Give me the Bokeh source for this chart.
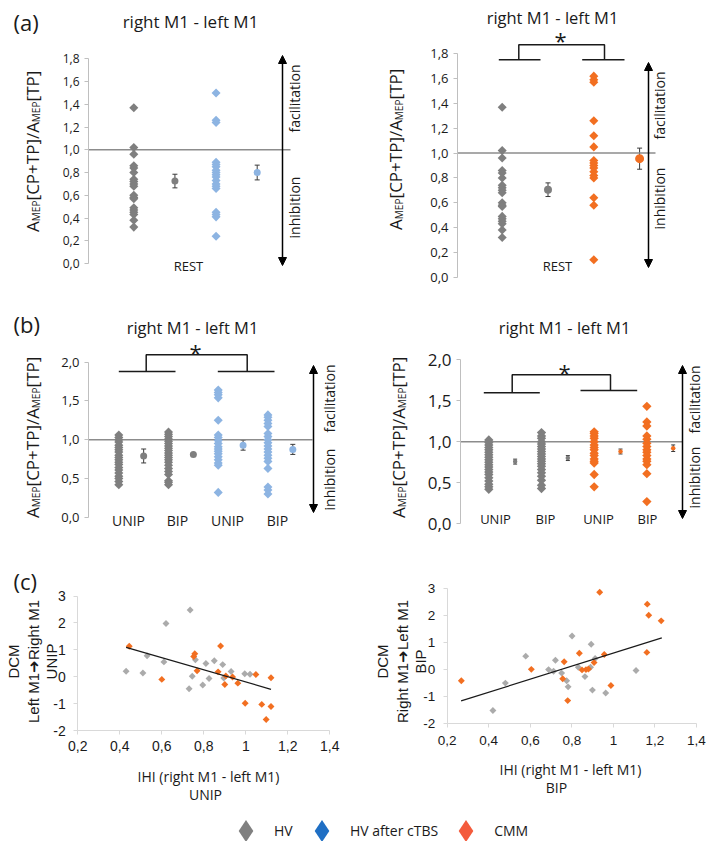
import math
from bokeh.plotting import figure
from bokeh.models import (Range1d, Label, Arrow, NormalHead, Whisker, TeeHead,
                          ColumnDataSource, FixedTicker, CustomJSTickFormatter,
                          Legend, LegendItem)
from bokeh.layouts import column, row
from bokeh.embed import file_html
from bokeh.resources import INLINE

# ---------------- data ----------------
rest_ticks = [0.0, 0.2, 0.4, 0.6, 0.8, 1.0, 1.2, 1.4, 1.6, 1.8]
stim_ticks = [0.0, 0.5, 1.0, 1.5, 2.0]
ihi_ticks = [0.2, 0.4, 0.6, 0.8, 1.0, 1.2, 1.4]
dcm_ticks = [-2, -1, 0, 1, 2, 3]

rest_label = ["REST"]
stim_labels = ["UNIP", "BIP", "UNIP", "BIP"]

# (a) REST
rest_hv = [1.37, 1.02, 0.96, 0.86, 0.84, 0.80, 0.74, 0.72, 0.70, 0.68, 0.60,
           0.58, 0.57, 0.49, 0.47, 0.45, 0.43, 0.38, 0.32]
rest_ctbs = [1.50, 1.26, 1.24, 0.89, 0.87, 0.85, 0.82, 0.80, 0.78, 0.76, 0.73,
             0.70, 0.68, 0.66, 0.45, 0.43, 0.41, 0.24]
rest_cmm = [1.62, 1.59, 1.57, 1.26, 1.14, 1.05, 0.94, 0.92, 0.90, 0.88, 0.85,
            0.82, 0.80, 0.64, 0.58, 0.14]
rest_mean_left = [0.725, 0.80]
rest_err_left = [0.06, 0.065]
rest_mean_right = [0.705, 0.955]
rest_err_right = [0.055, 0.085]

# (b) UNIP / BIP, left panel (HV vs HV after cTBS)
stim_hv_unip_l = [1.06, 1.03, 1.00, 0.97, 0.93, 0.90, 0.87, 0.84, 0.80, 0.77,
                  0.74, 0.71, 0.68, 0.64, 0.61, 0.57, 0.53, 0.50, 0.46, 0.42]
stim_hv_bip_l = [1.10, 1.07, 1.04, 1.01, 0.98, 0.95, 0.92, 0.89, 0.86, 0.83,
                 0.80, 0.77, 0.74, 0.71, 0.67, 0.63, 0.59, 0.55, 0.47, 0.45, 0.42]
stim_ctbs_unip = [1.64, 1.61, 1.58, 1.54, 1.25, 1.06, 1.03, 0.99, 0.95, 0.91,
                  0.88, 0.85, 0.82, 0.78, 0.74, 0.70, 0.67, 0.32]
stim_ctbs_bip = [1.32, 1.29, 1.25, 1.21, 1.17, 1.08, 1.04, 1.00, 0.96, 0.92,
                 0.88, 0.84, 0.80, 0.76, 0.72, 0.63, 0.39, 0.35, 0.30]
stim_mean_left = [0.79, 0.81, 0.93, 0.875]
stim_err_left = [0.09, 0.015, 0.065, 0.065]

# (b) right panel (HV vs CMM)
stim_hv_unip_r = [1.02, 0.99, 0.96, 0.93, 0.90, 0.87, 0.84, 0.81, 0.78, 0.75,
                  0.72, 0.69, 0.66, 0.63, 0.60, 0.56, 0.52, 0.48, 0.45, 0.42]
stim_hv_bip_r = [1.11, 1.07, 1.04, 1.00, 0.97, 0.94, 0.91, 0.88, 0.85, 0.82,
                 0.79, 0.76, 0.73, 0.70, 0.66, 0.62, 0.58, 0.53, 0.47, 0.43]
stim_cmm_unip = [1.12, 1.10, 1.07, 1.04, 1.00, 0.96, 0.93, 0.90, 0.86, 0.83,
                 0.79, 0.76, 0.74, 0.60, 0.45]
stim_cmm_bip = [1.43, 1.24, 1.19, 1.07, 1.03, 0.98, 0.94, 0.90, 0.87, 0.83,
                0.79, 0.76, 0.72, 0.61, 0.27]
stim_mean_right = [0.757, 0.80, 0.88, 0.92]
stim_err_right = [0.03, 0.03, 0.03, 0.04]

# (c) DCM vs IHI
unip_hv_x = [0.43, 0.51, 0.53, 0.61, 0.62, 0.735, 0.73, 0.745, 0.76, 0.795,
             0.81, 0.825, 0.85, 0.89, 0.895, 0.93, 0.995, 1.02]
unip_hv_y = [0.20, 0.14, 0.78, 0.55, 1.98, 2.48, -0.45, 0.02, 0.63, -0.31,
             0.49, -0.07, 0.59, 0.45, -0.05, 0.19, 0.11, 0.09]
unip_cmm_x = [0.445, 0.60, 0.757, 0.752, 0.768, 0.868, 0.88, 0.90, 0.905,
              0.937, 0.962, 0.997, 1.048, 1.076, 1.097, 1.12, 1.12]
unip_cmm_y = [1.13, -0.10, 0.85, 0.75, 0.22, 0.18, 1.14, -0.29, 0.03, -0.01,
              -0.24, -0.99, 0.08, -1.03, -1.59, -0.04, -1.11]
unip_fit_x = [0.43, 1.12]
unip_fit_y = [1.09, -0.47]

bip_hv_x = [0.42, 0.48, 0.578, 0.688, 0.721, 0.712, 0.751, 0.775, 0.782, 0.801,
            0.831, 0.863, 0.893, 0.89, 0.912, 0.899, 0.963, 1.109]
bip_hv_y = [-1.52, -0.50, 0.50, 0.00, 0.35, -0.06, -0.13, -0.41, -0.64, 1.25,
            0.09, -0.26, 0.94, 0.09, 0.41, -0.76, -0.87, -0.03]
bip_cmm_x = [0.268, 0.605, 0.763, 0.756, 0.78, 0.836, 0.849, 0.868, 0.88,
             0.907, 0.934, 0.956, 0.988, 1.161, 1.163, 1.17, 1.23]
bip_cmm_y = [-0.41, 0.01, 0.29, -0.34, -1.15, 0.61, -0.01, 0.0, 0.02, 0.26,
             2.87, 0.56, -0.59, 0.64, 2.43, 2.02, 1.81]
bip_fit_x = [0.267, 1.233]
bip_fit_y = [-1.16, 1.18]

legend_labels = ["HV", "HV after cTBS", "CMM"]

# ---------------- styles ----------------
GRAY = "#7F7F7F"
CGRAY = "#ABABAB"
BLUE = "#8DB4E2"
ORANGE = "#F26F21"
LEG_COLORS = ["#808080", "#1F6FC4", "#F45B3C"]
TEXT = "#1A1A1A"
AXIS = "#BFBFBF"
ERR = "#3A3A3A"
FONT = "Open Sans"
CFONT = "Liberation Sans"

OS_W = {'A': 0.633, 'C': 0.631, 'E': 0.556, 'M': 0.905, 'P': 0.613, 'T': 0.560,
        '[': 0.306, ']': 0.306, '+': 0.572, '/': 0.368}


class Panel:
    """A figure whose frame covers the whole figure; positions given in page pixels."""

    def __init__(self, x0, y0, w, h, xcal, ycal, xaxis=False):
        self.xcal, self.ycal = xcal, ycal
        self.fig = figure(width=w, height=h,
                          x_range=Range1d(self.X(x0), self.X(x0 + w)),
                          y_range=Range1d(self.Y(y0 + h), self.Y(y0)),
                          min_border=0,
                          toolbar_location=None, output_backend="svg",
                          x_axis_location="below" if xaxis else None,
                          y_axis_location="left")
        p = self.fig
        p.outline_line_color = None
        p.background_fill_color = "white"
        p.border_fill_color = "white"
        for g in p.grid:
            g.visible = False

    def X(self, px):
        v1, p1, v2, p2 = self.xcal
        return v1 + (px - p1) * (v2 - v1) / (p2 - p1)

    def Y(self, py):
        v1, p1, v2, p2 = self.ycal
        return v1 + (py - p1) * (v2 - v1) / (p2 - p1)

    def label(self, px, py, text, size, angle=0.0, align="center", baseline="middle",
              font=FONT, color=TEXT):
        self.fig.add_layout(Label(x=self.X(px), y=self.Y(py), text=text, angle=angle,
                                  text_align=align, text_baseline=baseline,
                                  text_font=font, text_font_size=f"{size}px",
                                  text_color=color))

    def hline(self, px0, px1, yv):
        self.fig.line([self.X(px0), self.X(px1)], [yv, yv], line_color="#8C8C8C",
                      line_width=1.5)

    def arrow(self, px, py_bottom, py_top):
        self.fig.add_layout(Arrow(
            x_start=self.X(px), y_start=self.Y(py_bottom),
            x_end=self.X(px), y_end=self.Y(py_top),
            start=NormalHead(size=8, fill_color="black", line_color="black", line_width=1),
            end=NormalHead(size=8, fill_color="black", line_color="black", line_width=1),
            line_color="black", line_width=1.5))

    def bracket(self, top_y, lleg_x, rleg_x, lfoot, rfoot, lfoot_y, rfoot_y):
        xs = [[self.X(lfoot[0]), self.X(lfoot[1])],
              [self.X(lleg_x), self.X(lleg_x), self.X(rleg_x), self.X(rleg_x)],
              [self.X(rfoot[0]), self.X(rfoot[1])]]
        ys = [[self.Y(lfoot_y), self.Y(lfoot_y)],
              [self.Y(lfoot_y), self.Y(top_y), self.Y(top_y), self.Y(rfoot_y)],
              [self.Y(rfoot_y), self.Y(rfoot_y)]]
        self.fig.multi_line(xs, ys, line_color="#1A1A1A", line_width=1.5)

    def amep_label(self, base_x, center_y, big=17, small=10):
        pieces = [("A", False), ("MEP", True), ("[CP+TP]/A", False), ("MEP", True), ("[TP]", False)]
        widths = [sum(OS_W[c] for c in s) * (small if sub else big) for s, sub in pieces]
        y = center_y + sum(widths) / 2
        for (s, sub), w in zip(pieces, widths):
            self.label(base_x + (3 if sub else 0), y, s, small if sub else big,
                       angle=math.pi / 2, align="left", baseline="alphabetic")
            y -= w


def style_axis(ax, loc, bounds, ticks, code, font, size, standoff, color=AXIS):
    ax.fixed_location = loc
    ax.bounds = bounds
    ax.ticker = FixedTicker(ticks=ticks)
    ax.formatter = CustomJSTickFormatter(code=code)
    ax.axis_line_color = color
    ax.axis_line_width = 1
    ax.major_tick_line_color = color
    ax.major_tick_in = 0
    ax.major_tick_out = 4
    ax.minor_tick_line_color = None
    ax.major_label_text_font = font
    ax.major_label_text_font_size = f"{size}px"
    ax.major_label_text_color = TEXT
    ax.major_label_standoff = standoff


COMMA1 = "return tick.toFixed(1).replace('.', ',');"
COMMA_TRIM = "return (Math.round(tick*10)/10).toString().replace('.', ',');"
INT = "return Math.round(tick).toString();"


def dots(pn, groups, means, errs, colors, mean_sizes, dsize=6.4, cap=5):
    for i, (vals, m, e, c, ms) in enumerate(zip(groups, means, errs, colors, mean_sizes)):
        xd, xm = 2 * i + 1, 2 * i + 2
        pn.fig.scatter(x=[xd] * len(vals), y=vals, marker="square", angle=math.pi / 4,
                       size=dsize, fill_color=c, line_color=None)
        src = ColumnDataSource(dict(x=[xm], lo=[m - e], hi=[m + e]))
        pn.fig.add_layout(Whisker(source=src, base="x", lower="lo", upper="hi",
                                  dimension="height", line_color=ERR, line_width=1,
                                  level="underlay",
                                  upper_head=TeeHead(size=cap, line_color=ERR, line_width=1),
                                  lower_head=TeeHead(size=cap, line_color=ERR, line_width=1)))
        pn.fig.scatter(x=[xm], y=[m], marker="circle", size=ms, fill_color=c, line_color=None)


TITLE = "right M1 - left M1"
ROT = math.pi / 2

# ---------------- (a) left ----------------
a1 = Panel(0, 0, 350, 290, (1, 133.3, 4, 256.7), (1.8, 58.3, 0.0, 263.0))
style_axis(a1.fig.yaxis[0], a1.X(88), (0, 1.8), rest_ticks, COMMA1, FONT, 12, 5)
a1.hline(88, 290, 1.0)
dots(a1, [rest_hv, rest_ctbs], rest_mean_left, rest_err_left, [GRAY, BLUE], [7, 7])
a1.arrow(282, 265, 55)
a1.label(190, 21, TITLE, 17, baseline="alphabetic")
a1.label(13, 21, "(a)", 22, align="left", baseline="alphabetic")
a1.amep_label(32, 151)
a1.label(294, 98, "facilitation", 14, angle=ROT)
a1.label(294, 207, "inhibition", 14, angle=ROT)
a1.label(188, 265, rest_label[0], 13)

# ---------------- (a) right ----------------
a2 = Panel(350, 0, 358, 290, (1, 501.7, 3, 593.3), (1.8, 53.3, 0.0, 276.7))
style_axis(a2.fig.yaxis[0], a2.X(457), (0, 1.8), rest_ticks, COMMA1, FONT, 13, 5)
a2.hline(457, 655, 1.0)
dots(a2, [rest_hv, rest_cmm], rest_mean_right, rest_err_right, [GRAY, ORANGE], [8, 9])
a2.arrow(648, 267, 62)
a2.label(552, 17, TITLE, 16.5, baseline="alphabetic")
a2.amep_label(395, 149)
a2.label(659, 105, "facilitation", 14, angle=ROT)
a2.label(659, 198, "inhibition", 14, angle=ROT)
a2.label(557, 265, rest_label[0], 13)
a2.bracket(44.3, 518.3, 604, (498.3, 540), (581.7, 624), 59.3, 59.3)
a2.label(560, 39, "*", 22, baseline="alphabetic")

# ---------------- (b) left ----------------
b1 = Panel(0, 290, 350, 250, (1, 118.3, 8, 292.3), (2.0, 361.7, 0.0, 516.7))
style_axis(b1.fig.yaxis[0], b1.X(88), (0, 2.0), stim_ticks, COMMA1, FONT, 13, 5)
b1.hline(88, 312, 1.0)
dots(b1, [stim_hv_unip_l, stim_hv_bip_l, stim_ctbs_unip, stim_ctbs_bip],
     stim_mean_left, stim_err_left, [GRAY, GRAY, BLUE, BLUE], [7, 7, 7, 7])
b1.arrow(313, 512, 365)
b1.label(192, 327, TITLE, 16.5, baseline="alphabetic")
b1.label(13, 323, "(b)", 22, align="left", baseline="alphabetic")
b1.amep_label(32, 437)
b1.label(329, 398, "facilitation", 14, angle=ROT)
b1.label(329, 479, "inhibition", 14, angle=ROT)
for lab, px in zip(stim_labels, [128, 177, 227, 277]):
    b1.label(px, 520, lab, 14)
b1.bracket(354.3, 145.7, 246.7, (118.3, 175), (217.3, 274), 371, 371)
b1.label(195, 351, "*", 22, baseline="alphabetic")

# ---------------- (b) right ----------------
b2 = Panel(350, 290, 358, 250, (1, 488.3, 8, 672.7), (2.0, 359.0, 0.0, 523.3))
style_axis(b2.fig.yaxis[0], b2.X(460), (0, 2.0), stim_ticks, COMMA1, FONT, 17, 5)
b2.hline(460, 682, 1.0)
dots(b2, [stim_hv_unip_r, stim_hv_bip_r, stim_cmm_unip, stim_cmm_bip],
     stim_mean_right, stim_err_right, [GRAY, GRAY, ORANGE, ORANGE], [4.5, 4.5, 4.5, 4.5],
     dsize=6.6, cap=4)
b2.arrow(682, 518, 365)
b2.label(564, 327, TITLE, 16.5, baseline="alphabetic")
b2.amep_label(398, 437)
b2.label(694, 399, "facilitation", 14, angle=ROT)
b2.label(694, 477, "inhibition", 14, angle=ROT)
for lab, px in zip(stim_labels, [495, 545, 598, 647]):
    b2.label(px, 518, lab, 13)
b2.bracket(374.3, 511.7, 610, (483.3, 539.3), (580, 636.7), 392.3, 390)
b2.label(564, 371, "*", 22, baseline="alphabetic")


# ---------------- (c) ----------------
def scatter_panel(pn, hx, hy, cx, cy, fx, fy, tick_size, x_standoff):
    style_axis(pn.fig.yaxis[0], 0.2, (-2, 3), dcm_ticks, INT, CFONT, tick_size, 8, "#D9D9D9")
    style_axis(pn.fig.xaxis[0], -2, (0.2, 1.4), ihi_ticks, COMMA_TRIM, CFONT, tick_size,
               x_standoff, "#D9D9D9")
    pn.fig.scatter(hx, hy, marker="square", angle=math.pi / 4, size=4.9,
                   fill_color=CGRAY, line_color=None)
    pn.fig.scatter(cx, cy, marker="square", angle=math.pi / 4, size=4.9,
                   fill_color=ORANGE, line_color=None)
    pn.fig.line(fx, fy, line_color="#1A1A1A", line_width=1.2)


c1 = Panel(0, 540, 350, 266, (0.2, 77.3, 1.4, 329.3), (3, 595.5, -2, 730), xaxis=True)
scatter_panel(c1, unip_hv_x, unip_hv_y, unip_cmm_x, unip_cmm_y, unip_fit_x, unip_fit_y, 14, 6)
c1.label(13, 580, "(c)", 22, align="left", baseline="alphabetic")
for bx, s in zip([13, 33, 51], ["DCM", "Left M1\u279cRight M1", "UNIP"]):
    c1.label(bx, 661, s, 15, angle=ROT, baseline="alphabetic", font=CFONT)
c1.label(208, 776, "IHI (right M1 - left M1)", 14, baseline="alphabetic")
c1.label(205, 794, "UNIP", 14, baseline="alphabetic")

c2 = Panel(350, 540, 358, 266, (0.2, 446.7, 1.4, 696), (3, 588.3, -2, 723), xaxis=True)
scatter_panel(c2, bip_hv_x, bip_hv_y, bip_cmm_x, bip_cmm_y, bip_fit_x, bip_fit_y, 13.5, 8)
for bx, s in zip([382, 402, 420], ["DCM", "Right M1\u279cLeft M1", "BIP"]):
    c2.label(bx, 661, s, 15, angle=ROT, baseline="alphabetic", font=CFONT)
c2.label(570, 769, "IHI (right M1 - left M1)", 14, baseline="alphabetic")
c2.label(556, 787, "BIP", 14, baseline="alphabetic")

# ---------------- legend ----------------
leg = figure(width=708, height=35, x_range=Range1d(0, 1), y_range=Range1d(0, 1),
             toolbar_location=None, output_backend="svg", x_axis_location=None,
             y_axis_location=None, min_border=0)
leg.outline_line_color = None
for g in leg.grid:
    g.visible = False
items = []
for lab, col in zip(legend_labels, LEG_COLORS):
    r = leg.scatter(x=[float("nan")], y=[float("nan")], marker="diamond",
                    size=22, fill_color=col, line_color=None)
    items.append(LegendItem(label=lab, renderers=[r]))
legend = Legend(items=items, orientation="horizontal", location=(218, -17),
                glyph_width=55, glyph_height=55, label_standoff=1, spacing=-4,
                padding=0, margin=0, border_line_color=None, background_fill_alpha=0,
                label_text_font=FONT, label_text_font_size="14px", label_text_color=TEXT)
leg.add_layout(legend)

layout = column(row(a1.fig, a2.fig), row(b1.fig, b2.fig), row(c1.fig, c2.fig), leg)
open("out.html", "w").write(file_html(layout, INLINE))
